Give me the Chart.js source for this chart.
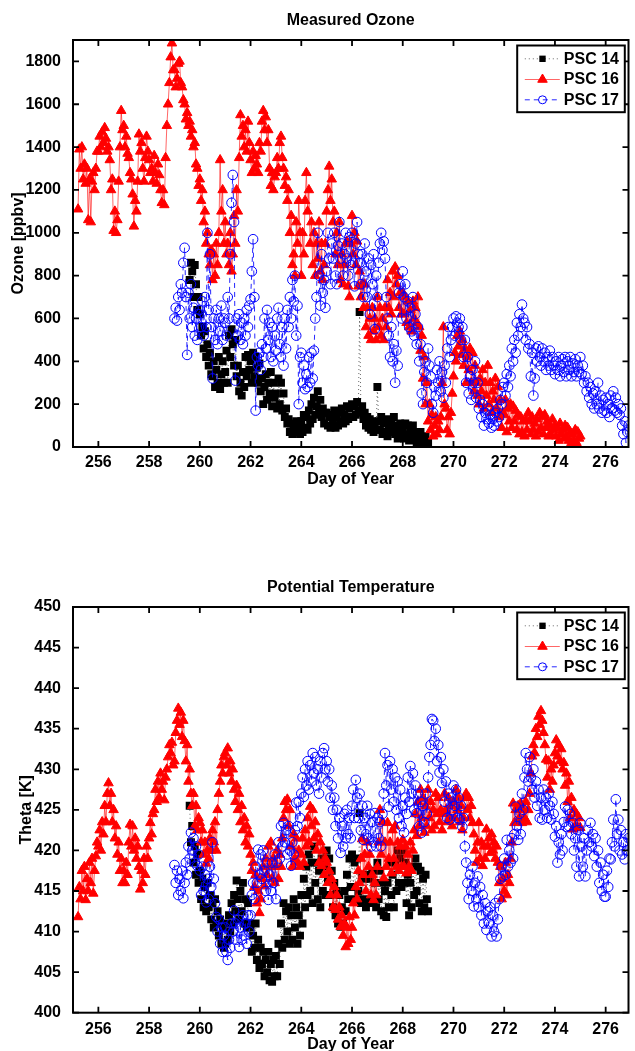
<!DOCTYPE html>
<html><head><meta charset="utf-8">
<script src="https://cdn.jsdelivr.net/npm/chart.js@4.4.1/dist/chart.umd.min.js"></script>
<style>
html,body{margin:0;padding:0;background:#fff;overflow:hidden;width:635px;height:1051px;}
canvas{position:absolute;left:0;}
#c1{top:0}
#c2{top:525px}
</style></head><body>
<canvas id="c1" width="635" height="525"></canvas>
<canvas id="c2" width="635" height="540"></canvas>
<script>
const seriesNames = ['PSC 14', 'PSC 16', 'PSC 17'];
const dayTicks = [256, 258, 260, 262, 264, 266, 268, 270, 272, 274, 276];
const ozoneTicks = [0, 200, 400, 600, 800, 1000, 1200, 1400, 1600, 1800];
const thetaTicks = [400, 405, 410, 415, 420, 425, 430, 435, 440, 445, 450];

// ---------- PSC 14 ----------
const psc14Day = [259.60,259.65,259.70,259.75,259.80,259.85,259.90,259.95,
260.00,260.05,260.10,260.15,260.20,260.25,260.30,260.35,260.40,260.45,260.50,260.55,260.60,260.65,260.70,260.75,260.80,260.85,260.90,260.95,
261.00,261.05,261.10,261.15,261.20,261.25,261.30,261.35,261.40,261.45,261.50,261.55,261.60,261.65,261.70,261.75,261.80,261.85,261.90,261.95,
262.00,262.05,262.10,262.15,262.20,262.25,262.30,262.35,262.40,262.45,262.50,262.55,262.60,262.65,262.70,262.75,262.80,262.85,262.90,262.95,
263.00,263.05,263.10,263.15,263.20,263.25,263.30,263.35,263.40,263.45,263.50,263.55,263.60,263.65,263.70,263.75,263.80,263.85,263.90,263.95,
264.00,264.05,264.10,264.15,264.20,264.25,264.30,264.35,264.40,264.45,264.50,264.55,264.60,264.65,264.70,264.75,264.80,264.85,264.90,264.95,
265.00,265.05,265.10,265.15,265.20,265.25,265.30,265.35,265.40,265.45,265.50,265.55,265.60,265.65,265.70,265.75,265.80,265.85,265.90,265.95,
266.00,266.05,266.10,266.15,266.20,266.25,266.30,266.35,266.40,266.45,266.50,266.55,266.60,266.65,266.70,266.75,266.80,266.85,266.90,266.95,
267.00,267.05,267.10,267.15,267.20,267.25,267.30,267.35,267.40,267.45,267.50,267.55,267.60,267.65,267.70,267.75,267.80,267.85,267.90,267.95,
268.00,268.05,268.10,268.15,268.20,268.25,268.30,268.35,268.40,268.45,268.50,268.55,268.60,268.65,268.70,268.75,268.80,268.85,268.90,268.95,
269.00];
const psc14Ozone = [780,860,820,700,850,760,640,700,
620,520,560,460,540,420,480,380,440,340,330,400,280,360,300,420,270,340,400,300,
350,450,300,520,420,550,480,380,500,330,380,260,300,240,350,280,420,330,430,360,
400,300,440,330,420,370,300,390,260,320,200,280,340,220,300,250,350,190,300,230,
250,180,320,200,300,170,250,140,180,110,130,70,110,60,90,70,120,80,100,60,
120,70,150,90,140,80,170,110,200,130,230,150,190,260,170,220,140,180,110,160,
160,100,140,90,150,110,170,90,140,100,160,120,180,110,150,120,190,130,180,140,
200,140,190,150,210,170,630,160,190,130,160,100,140,90,130,80,120,70,110,80,
280,120,80,140,60,110,70,130,50,100,70,120,90,140,60,100,40,80,110,60,
90,40,110,60,100,30,80,50,100,40,70,20,60,30,70,10,40,20,50,10,
20];
const psc14Theta = [425.5,421.0,423.0,418.5,420.5,417.0,419.5,416.0,
417.5,414.0,416.5,413.0,415.5,412.5,416.0,413.0,414.5,411.5,413.5,410.5,414.0,411.0,412.5,409.5,411.5,408.5,410.5,408.0,
408.5,411.0,409.0,412.0,410.0,413.5,411.0,414.5,412.5,416.3,414.0,411.5,415.0,412.5,416.0,411.0,414.0,410.5,413.5,411.0,
410.5,407.5,409.5,408.0,411.0,406.5,409.0,405.5,408.0,406.0,407.5,404.5,406.5,405.0,407.5,404.0,406.0,403.8,406.5,404.5,
407.0,404.5,408.5,406.0,411.0,408.0,413.5,409.0,412.5,410.0,413.0,408.5,412.0,409.0,414.0,410.5,413.0,408.5,412.0,409.5,
414.5,411.0,416.5,413.0,418.0,414.5,419.5,415.0,418.5,413.5,420.5,416.0,418.5,414.0,417.5,413.0,419.0,415.0,418.0,414.5,
420.0,416.5,419.0,414.5,417.5,413.0,416.0,412.0,415.0,411.0,414.5,410.6,413.0,411.0,415.0,412.5,417.0,414.0,419.0,415.5,
419.5,415.5,418.5,414.0,419.0,415.0,424.6,413.5,417.0,414.0,416.5,413.0,417.0,413.5,416.5,414.0,417.5,413.5,416.0,413.0,
418.5,414.0,417.5,412.5,416.0,412.0,415.0,411.8,416.0,413.0,418.5,414.5,417.0,413.0,418.5,415.0,420.0,416.0,419.0,415.5,
420.0,416.0,418.5,413.5,417.0,412.0,416.0,413.0,418.0,414.5,419.0,415.0,418.0,413.5,417.5,412.5,416.5,413.0,417.0,414.0,
412.5];

// ---------- PSC 16 ----------
const psc16Day = [255.20,255.25,255.30,255.35,255.40,255.45,255.50,255.55,255.60,255.65,255.70,255.75,255.80,255.85,255.90,255.95,
256.00,256.05,256.10,256.15,256.20,256.25,256.30,256.35,256.40,256.45,256.50,256.55,256.60,256.65,256.70,256.75,256.80,256.85,256.90,256.95,
257.00,257.05,257.10,257.15,257.20,257.25,257.30,257.35,257.40,257.45,257.50,257.55,257.60,257.65,257.70,257.75,257.80,257.85,257.90,257.95,
258.00,258.05,258.10,258.15,258.20,258.25,258.30,258.35,258.40,258.45,258.50,258.55,258.60,258.65,258.70,258.75,258.80,258.85,258.90,258.95,
259.00,259.05,259.10,259.15,259.20,259.25,259.30,259.35,259.40,259.45,259.50,259.55,259.60,259.65,259.70,259.75,259.80,259.85,259.90,259.95,
260.00,260.05,260.10,260.15,260.20,260.25,260.30,260.35,260.40,260.45,260.50,260.55,260.60,260.65,260.70,260.75,260.80,260.85,260.90,260.95,
261.00,261.05,261.10,261.15,261.20,261.25,261.30,261.35,261.40,261.45,261.50,261.55,261.60,261.65,261.70,261.75,261.80,261.85,261.90,261.95,
262.00,262.05,262.10,262.15,262.20,262.25,262.30,262.35,262.40,262.45,262.50,262.55,262.60,262.65,262.70,262.75,262.80,262.85,262.90,262.95,
263.00,263.05,263.10,263.15,263.20,263.25,263.30,263.35,263.40,263.45,263.50,263.55,263.60,263.65,263.70,263.75,263.80,263.85,263.90,263.95,
264.00,264.05,264.10,264.15,264.20,264.25,264.30,264.35,264.40,264.45,264.50,264.55,264.60,264.65,264.70,264.75,264.80,264.85,264.90,264.95,
265.00,265.05,265.10,265.15,265.20,265.25,265.30,265.35,265.40,265.45,265.50,265.55,265.60,265.65,265.70,265.75,265.80,265.85,265.90,265.95,
266.00,266.05,266.10,266.15,266.20,266.25,266.30,266.35,266.40,266.45,266.50,266.55,266.60,266.65,266.70,266.75,266.80,266.85,266.90,266.95,
267.00,267.05,267.10,267.15,267.20,267.25,267.30,267.35,267.40,267.45,267.50,267.55,267.60,267.65,267.70,267.75,267.80,267.85,267.90,267.95,
268.00,268.05,268.10,268.15,268.20,268.25,268.30,268.35,268.40,268.45,268.50,268.55,268.60,268.65,268.70,268.75,268.80,268.85,268.90,268.95,
269.00,269.05,269.10,269.15,269.20,269.25,269.30,269.35,269.40,269.45,269.50,269.55,269.60,269.65,269.70,269.75,269.80,269.85,269.90,269.95,
270.00,270.05,270.10,270.15,270.20,270.25,270.30,270.35,270.40,270.45,270.50,270.55,270.60,270.65,270.70,270.75,270.80,270.85,270.90,270.95,
271.00,271.05,271.10,271.15,271.20,271.25,271.30,271.35,271.40,271.45,271.50,271.55,271.60,271.65,271.70,271.75,271.80,271.85,271.90,271.95,
272.00,272.05,272.10,272.15,272.20,272.25,272.30,272.35,272.40,272.45,272.50,272.55,272.60,272.65,272.70,272.75,272.80,272.85,272.90,272.95,
273.00,273.05,273.10,273.15,273.20,273.25,273.30,273.35,273.40,273.45,273.50,273.55,273.60,273.65,273.70,273.75,273.80,273.85,273.90,273.95,
274.00,274.05,274.10,274.15,274.20,274.25,274.30,274.35,274.40,274.45,274.50,274.55,274.60,274.65,274.70,274.75,274.80,274.85,274.90,274.95,
275.00];
const psc16Ozone = [1110,1390,1300,1400,1250,1320,1230,1300,1060,1250,1050,1240,1280,1200,1300,1380,
1380,1450,1400,1470,1420,1490,1440,1380,1400,1340,1200,1250,1010,1100,1000,1060,1240,1400,1570,1480,
1500,1400,1450,1370,1350,1280,1250,1180,1030,1150,1100,1240,1460,1380,1420,1300,1240,1350,1450,1380,
1340,1280,1300,1240,1360,1280,1230,1320,1270,1200,1140,1200,1130,1350,1500,1600,1700,1820,1885,1760,
1760,1680,1720,1790,1800,1700,1680,1620,1600,1530,1560,1500,1520,1450,1480,1400,1420,1320,1300,1220,
1250,1150,1200,1050,1100,950,1000,900,850,920,780,900,800,950,850,1000,1340,1100,1200,950,
1050,900,950,850,1000,820,900,1080,950,1200,1100,1350,1550,1450,1500,1400,1480,1380,1520,1420,
1340,1280,1380,1300,1360,1320,1280,1420,1380,1520,1570,1480,1540,1420,1480,1300,1220,1280,1200,1260,
1280,1350,1300,1420,1450,1350,1300,1220,1260,1150,1200,1000,1080,850,900,800,1050,950,1150,1000,
800,1000,900,1150,1280,1100,1200,950,1050,850,1000,800,950,880,1050,820,950,780,850,950,
1100,1200,1310,1150,1250,1050,1100,900,1000,850,1050,780,900,760,850,950,960,750,700,950,
1080,900,1000,850,960,750,820,700,760,650,760,560,650,520,600,500,650,540,600,500,
700,560,650,520,600,500,650,560,780,650,720,620,820,700,840,760,800,650,720,620,
720,620,700,580,680,560,640,540,680,600,650,580,700,560,450,520,320,420,200,300,
120,200,80,150,50,100,140,60,120,80,140,300,560,200,180,80,140,60,160,250,
330,440,400,520,470,540,430,500,380,460,300,420,360,460,300,440,260,380,300,240,
200,320,260,360,180,300,240,380,200,300,160,260,220,320,180,280,140,220,90,160,
150,220,70,180,120,200,90,190,120,170,80,150,60,140,70,120,50,130,80,160,
120,60,140,80,110,50,130,70,160,90,140,60,150,90,120,50,100,60,130,80,
100,50,90,30,110,60,80,40,100,50,90,30,70,20,60,30,80,20,70,40,
50];
const psc16Theta = [411.8,415.5,414.0,417.5,415.0,418.0,413.9,416.5,415.0,418.5,416.0,419.0,414.7,417.5,419.3,421.0,
420.5,422.5,420.0,423.5,422.0,425.5,423.5,427.0,428.3,425.5,427.0,423.5,425.0,421.5,423.0,419.5,421.0,417.5,419.0,416.0,
417.5,416.0,418.5,417.0,421.0,423.2,420.5,423.0,420.0,421.5,419.0,420.5,418.0,415.2,417.5,416.0,419.0,417.0,420.5,419.0,
421.5,423.4,422.0,424.5,425.0,427.5,426.0,428.5,426.5,429.5,427.5,428.5,426.2,429.0,430.0,431.5,433.0,432.0,433.3,430.5,
431.0,434.5,436.0,437.5,435.5,437.0,434.0,436.0,433.5,431.0,433.0,428.5,430.0,427.0,425.5,427.0,423.0,425.5,422.5,424.0,
423.4,421.0,422.5,419.5,421.0,418.4,420.0,419.0,421.5,420.0,422.5,421.0,423.5,420.0,425.0,427.0,428.5,430.5,429.5,431.5,
432.0,430.5,432.6,429.5,431.0,428.5,430.0,427.5,426.0,428.0,425.0,427.0,423.5,425.5,422.5,424.0,421.0,423.0,420.5,422.0,
419.5,417.5,418.5,415.5,417.0,413.5,415.0,412.3,414.0,416.5,418.0,415.6,419.0,417.0,420.5,418.0,421.0,416.5,419.0,416.0,
418.0,420.0,416.5,419.5,418.0,421.5,424.0,426.0,425.0,426.3,423.0,425.0,420.5,418.0,422.0,419.0,421.5,418.5,420.0,418.0,
419.5,421.5,418.5,422.5,420.5,424.0,421.0,425.4,423.0,425.0,421.5,423.5,420.0,422.0,418.5,421.0,418.1,420.0,417.0,419.0,
418.5,416.0,417.5,414.5,416.5,413.0,415.5,412.7,414.5,411.5,413.0,410.6,412.0,409.5,411.0,408.1,410.5,408.5,411.8,409.0,
410.5,413.5,412.0,415.5,414.0,417.5,416.0,419.0,421.4,417.0,419.5,415.0,421.0,418.0,419.5,414.5,417.0,413.9,416.0,414.5,
418.0,421.0,425.0,419.5,423.5,416.6,421.0,418.0,423.4,419.0,421.0,417.2,422.5,419.0,423.0,418.0,421.0,417.5,420.5,418.0,
421.3,418.0,420.5,417.2,419.5,418.0,421.0,417.5,420.0,422.5,424.5,421.8,426.0,423.0,427.5,424.0,426.5,422.2,425.5,423.0,
427.5,424.0,426.0,422.5,425.0,423.0,427.0,424.5,426.5,423.5,425.0,422.5,424.5,427.0,425.0,423.5,426.5,424.0,425.5,423.0,
426.0,424.0,427.5,425.0,426.5,423.5,425.5,422.5,424.0,426.5,427.0,425.0,426.5,424.0,425.5,423.4,422.0,420.0,418.5,421.0,
423.4,419.0,421.0,418.1,420.5,419.0,422.6,420.5,421.5,419.7,422.0,420.0,421.0,419.0,420.5,418.5,416.0,418.0,414.0,416.5,
415.0,418.5,414.5,417.0,416.0,419.0,421.0,425.8,423.4,425.0,423.5,425.5,424.0,425.8,423.4,425.0,424.0,426.0,423.5,425.0,
427.0,429.5,431.6,433.0,432.0,435.0,434.0,436.5,435.5,437.2,436.0,434.5,433.0,431.2,429.0,431.0,427.5,430.0,428.5,430.5,
432.0,433.6,431.6,433.0,431.0,432.5,430.0,430.8,428.0,429.5,426.0,428.5,424.0,426.5,422.6,425.0,423.0,424.5,422.8,424.0,
422.8];

// ---------- PSC 17 ----------
const psc17Day = [259.00,259.05,259.10,259.15,259.20,259.25,259.30,259.35,259.40,259.45,259.50,259.55,259.60,259.65,259.70,259.75,259.80,259.85,259.90,259.95,
260.00,260.05,260.10,260.15,260.20,260.25,260.30,260.35,260.40,260.45,260.50,260.55,260.60,260.65,260.70,260.75,260.80,260.85,260.90,260.95,
261.00,261.05,261.10,261.15,261.20,261.25,261.30,261.35,261.40,261.45,261.50,261.55,261.60,261.65,261.70,261.75,261.80,261.85,261.90,261.95,
262.00,262.05,262.10,262.15,262.20,262.25,262.30,262.35,262.40,262.45,262.50,262.55,262.60,262.65,262.70,262.75,262.80,262.85,262.90,262.95,
263.00,263.05,263.10,263.15,263.20,263.25,263.30,263.35,263.40,263.45,263.50,263.55,263.60,263.65,263.70,263.75,263.80,263.85,263.90,263.95,
264.00,264.05,264.10,264.15,264.20,264.25,264.30,264.35,264.40,264.45,264.50,264.55,264.60,264.65,264.70,264.75,264.80,264.85,264.90,264.95,
265.00,265.05,265.10,265.15,265.20,265.25,265.30,265.35,265.40,265.45,265.50,265.55,265.60,265.65,265.70,265.75,265.80,265.85,265.90,265.95,
266.00,266.05,266.10,266.15,266.20,266.25,266.30,266.35,266.40,266.45,266.50,266.55,266.60,266.65,266.70,266.75,266.80,266.85,266.90,266.95,
267.00,267.05,267.10,267.15,267.20,267.25,267.30,267.35,267.40,267.45,267.50,267.55,267.60,267.65,267.70,267.75,267.80,267.85,267.90,267.95,
268.00,268.05,268.10,268.15,268.20,268.25,268.30,268.35,268.40,268.45,268.50,268.55,268.60,268.65,268.70,268.75,268.80,268.85,268.90,268.95,
269.00,269.05,269.10,269.15,269.20,269.25,269.30,269.35,269.40,269.45,269.50,269.55,269.60,269.65,269.70,269.75,269.80,269.85,269.90,269.95,
270.00,270.05,270.10,270.15,270.20,270.25,270.30,270.35,270.40,270.45,270.50,270.55,270.60,270.65,270.70,270.75,270.80,270.85,270.90,270.95,
271.00,271.05,271.10,271.15,271.20,271.25,271.30,271.35,271.40,271.45,271.50,271.55,271.60,271.65,271.70,271.75,271.80,271.85,271.90,271.95,
272.00,272.05,272.10,272.15,272.20,272.25,272.30,272.35,272.40,272.45,272.50,272.55,272.60,272.65,272.70,272.75,272.80,272.85,272.90,272.95,
273.00,273.05,273.10,273.15,273.20,273.25,273.30,273.35,273.40,273.45,273.50,273.55,273.60,273.65,273.70,273.75,273.80,273.85,273.90,273.95,
274.00,274.05,274.10,274.15,274.20,274.25,274.30,274.35,274.40,274.45,274.50,274.55,274.60,274.65,274.70,274.75,274.80,274.85,274.90,274.95,
275.00,275.05,275.10,275.15,275.20,275.25,275.30,275.35,275.40,275.45,275.50,275.55,275.60,275.65,275.70,275.75,275.80,275.85,275.90,275.95,
276.00,276.05,276.10,276.15,276.20,276.25,276.30,276.35,276.40,276.45,276.50,276.55,276.60,276.65,276.70,276.75,276.80,276.85,276.90];
const psc17Ozone = [600,650,590,700,640,760,720,860,930,700,430,720,600,760,560,650,520,600,500,620,
640,560,680,520,700,560,1000,640,900,560,320,600,500,640,480,600,540,660,500,600,
580,520,700,600,900,1140,1270,1050,310,600,520,620,500,580,480,600,520,640,560,660,
690,820,970,700,170,420,380,440,360,480,420,600,460,640,500,580,420,560,400,520,
450,600,650,480,420,560,380,600,460,640,560,700,600,780,680,800,520,660,200,420,
440,300,380,270,340,280,420,300,440,320,450,600,700,1000,800,660,900,720,780,650,
820,1000,880,760,950,880,1000,800,760,940,1050,880,950,800,900,1000,880,800,980,850,
1000,860,750,950,1050,900,860,760,900,700,950,820,700,880,620,850,760,900,550,800,
700,860,950,1000,920,960,880,700,600,520,420,560,400,480,300,450,380,720,760,600,
820,700,760,600,680,560,650,540,700,520,620,480,560,400,480,250,200,350,400,300,
460,380,330,200,160,280,240,360,300,400,260,350,230,380,300,460,560,420,500,560,
600,520,610,580,560,600,500,560,420,500,300,420,250,330,220,360,300,400,230,300,
180,220,140,200,100,160,130,180,110,150,90,130,100,160,120,180,140,220,200,280,
300,240,340,280,380,330,460,400,500,440,580,520,620,560,665,600,580,500,560,460,
480,330,440,240,320,460,400,470,420,380,460,400,440,360,420,380,450,360,420,380,
340,400,360,420,330,380,410,350,420,330,400,360,420,330,390,350,410,330,380,350,
420,340,380,300,330,260,300,230,280,200,250,180,260,200,300,180,240,160,220,170,
230,160,200,140,240,180,260,170,230,160,200,150,180,100,60,120,20,70,100];
const psc17Theta = [418.2,416.0,417.5,414.5,416.5,415.0,417.5,414.1,416.0,418.5,417.0,420.5,419.0,422.2,420.0,421.5,418.5,420.5,418.1,419.5,
417.5,414.5,418.0,415.0,417.0,413.6,416.5,414.0,418.0,415.5,421.0,416.5,413.5,411.8,410.0,411.5,408.5,410.5,407.5,409.5,
410.5,407.5,406.5,409.0,408.0,411.0,410.0,412.6,411.0,409.0,411.5,408.1,410.5,409.0,412.0,409.5,411.0,408.5,412.0,410.0,
412.0,414.5,416.0,414.0,418.0,416.0,420.1,417.0,419.5,416.5,420.0,417.5,415.0,418.5,413.9,417.0,415.0,418.5,416.0,419.5,
414.0,418.5,421.0,419.0,423.0,420.5,423.4,421.0,422.5,419.5,423.0,420.0,418.1,421.0,419.5,422.5,425.9,423.0,426.0,424.0,
427.0,429.0,426.6,430.0,428.0,431.0,427.5,430.5,428.5,432.0,429.5,431.5,428.0,430.0,427.0,431.0,429.0,432.0,432.6,430.0,
431.0,428.5,430.0,426.5,428.0,425.0,426.5,423.0,425.0,421.5,424.0,419.7,423.0,420.5,424.5,421.5,425.0,422.0,424.0,421.5,
425.5,427.5,424.0,428.7,426.5,424.0,427.0,422.5,425.5,421.3,424.0,422.0,425.5,421.5,424.5,420.5,423.5,421.0,424.6,420.5,
424.0,421.5,423.5,420.5,424.5,427.0,432.0,428.0,430.5,425.4,431.0,427.5,430.0,426.0,429.0,425.0,428.5,424.0,427.5,423.0,
425.5,422.2,426.5,424.5,429.0,426.0,430.4,427.0,429.5,425.0,428.0,424.6,427.0,423.0,426.0,422.2,425.5,423.5,427.0,424.5,
429.0,431.5,433.0,436.2,436.0,433.5,435.0,431.0,433.0,429.6,431.5,428.3,430.0,426.0,428.5,424.0,427.0,423.8,426.5,425.0,
428.0,425.5,427.5,424.0,426.5,423.8,425.5,422.9,424.0,420.5,418.5,416.0,414.0,417.0,415.0,418.0,413.1,416.0,414.0,416.8,
413.0,415.5,412.0,414.5,411.0,413.5,410.2,412.5,411.0,413.0,409.4,412.0,410.0,413.5,409.4,411.5,414.0,416.5,418.0,416.8,
419.0,417.0,421.3,418.0,420.0,418.5,421.5,419.0,422.0,425.4,423.0,421.3,424.5,422.0,427.0,425.0,429.0,432.0,430.0,428.5,
431.5,429.0,427.5,430.0,426.5,428.5,425.5,427.5,424.0,426.5,423.8,427.5,425.0,426.5,424.0,427.0,425.5,423.8,426.0,424.5,
421.7,423.0,418.5,421.0,419.5,422.0,420.0,423.5,425.4,422.9,425.0,423.0,424.5,422.0,423.4,420.0,421.5,418.0,422.5,416.8,
423.4,420.5,418.0,421.5,416.8,420.0,422.5,421.0,423.4,420.5,422.0,419.3,421.5,418.0,420.0,416.0,418.5,415.0,417.0,414.3,
414.3,417.5,415.5,419.0,418.9,421.0,423.8,420.5,426.3,422.0,423.8,420.0,422.5,419.5,421.0,418.9,422.0,420.0,421.5];

const FONT = "'Liberation Sans', Arial, Helvetica, sans-serif";
Chart.defaults.font.family = FONT;
Chart.defaults.font.size = 16;
Chart.defaults.font.weight = 'bold';
Chart.defaults.color = '#000';

const styles = [
  {name: seriesNames[0], color: '#000000', line: 'rgba(0,0,0,0.6)', lw: 1, dash: [1, 3], pointStyle: 'rect', radius: 5.6, fill: '#000000', pbw: 0, legR: 4.5},
  {name: seriesNames[1], color: '#ff0000', line: 'rgba(255,0,0,0.6)', lw: 1, dash: [], pointStyle: 'triangle', radius: 5.5, fill: '#ff0000', pbw: 1, legR: 5.5},
  {name: seriesNames[2], color: '#0000ff', line: 'rgba(0,0,255,0.85)', lw: 1, dash: [5, 4], pointStyle: 'circle', radius: 4.8, fill: 'rgba(0,0,0,0)', pbw: 1, legR: 4}
];

function makeDataset(i, days, vals) {
  const s = styles[i];
  return {
    label: s.name,
    data: days.map((d, k) => ({x: d, y: vals[k]})),
    showLine: true,
    borderColor: s.line,
    borderWidth: s.lw,
    borderDash: s.dash,
    pointStyle: s.pointStyle,
    pointRadius: s.radius,
    pointHoverRadius: s.radius,
    pointBackgroundColor: s.fill,
    pointBorderColor: s.color,
    pointBorderWidth: s.pbw,
    tension: 0,
    order: 3 - i
  };
}

function drawMarker(ctx, s, x, y, r) {
  ctx.save();
  ctx.setLineDash([]);
  ctx.fillStyle = s.fill;
  ctx.strokeStyle = s.color;
  ctx.lineWidth = s.pbw || 1;
  if (Chart.helpers && Chart.helpers.drawPoint) {
    Chart.helpers.drawPoint(ctx, {pointStyle: s.pointStyle, radius: r, rotation: 0, borderWidth: s.pbw}, x, y);
  } else {
    ctx.beginPath();
    if (s.pointStyle === 'rect') { ctx.rect(x - r * 0.707, y - r * 0.707, r * 1.414, r * 1.414); }
    else if (s.pointStyle === 'triangle') { ctx.moveTo(x, y - r); ctx.lineTo(x + r * 0.866, y + r * 0.5); ctx.lineTo(x - r * 0.866, y + r * 0.5); ctx.closePath(); }
    else { ctx.arc(x, y, r, 0, Math.PI * 2); }
    ctx.fill();
    if (s.pbw > 0) ctx.stroke();
  }
  ctx.restore();
}

const frameLegendPlugin = {
  id: 'frameLegend',
  afterDatasetsDraw(chart) {
    const {ctx, chartArea: a, scales: {x, y}} = chart;
    ctx.save();
    ctx.strokeStyle = '#000';
    ctx.lineWidth = 1.8;
    ctx.beginPath();
    x.ticks.forEach(t => {
      const px = x.getPixelForValue(t.value);
      ctx.moveTo(px, a.bottom); ctx.lineTo(px, a.bottom - 6);
      ctx.moveTo(px, a.top); ctx.lineTo(px, a.top + 6);
    });
    y.ticks.forEach(t => {
      const py = y.getPixelForValue(t.value);
      ctx.moveTo(a.left, py); ctx.lineTo(a.left + 6, py);
      ctx.moveTo(a.right, py); ctx.lineTo(a.right - 6, py);
    });
    ctx.stroke();
    ctx.lineWidth = 2;
    ctx.strokeRect(a.left, a.top, a.right - a.left, a.bottom - a.top);
    ctx.restore();
  },
  afterDraw(chart) {
    const {ctx, chartArea: a} = chart;
    const bw = 107.6, bh = 66.7;
    const bx = a.right - 111.3, by = a.top + 5.5;
    ctx.save();
    ctx.fillStyle = '#fff';
    ctx.fillRect(bx, by, bw, bh);
    ctx.strokeStyle = '#000';
    ctx.lineWidth = 2;
    ctx.strokeRect(bx, by, bw, bh);
    const rows = [13.3, 34, 54.3];
    styles.forEach((s, i) => {
      const yy = by + rows[i];
      ctx.save();
      ctx.strokeStyle = s.line;
      ctx.lineWidth = s.lw;
      ctx.setLineDash(s.dash);
      ctx.beginPath();
      ctx.moveTo(bx + 7.6, yy);
      ctx.lineTo(bx + 42.6, yy);
      ctx.stroke();
      ctx.restore();
      drawMarker(ctx, s, bx + 25.3, yy, s.legR);
      ctx.fillStyle = '#000';
      ctx.font = 'bold 16px ' + FONT;
      ctx.textAlign = 'left';
      ctx.textBaseline = 'middle';
      ctx.fillText(s.name, bx + 46.6, yy + 0.5);
    });
    ctx.restore();
  }
};

function makeChart(canvas, cfg) {
  return new Chart(canvas, {
    type: 'line',
    data: {datasets: cfg.datasets},
    options: {
      responsive: false,
      animation: false,
      devicePixelRatio: 1,
      events: [],
      layout: {padding: cfg.padding},
      plugins: {
        legend: {display: false},
        tooltip: {enabled: false},
        title: {display: true, text: cfg.title, fullSize: false, color: '#000',
                font: {size: 16, weight: 'bold'}, padding: cfg.titlePad}
      },
      scales: {
        x: {
          type: 'linear', min: 255, max: 276.9,
          grid: {display: false}, border: {display: false},
          afterBuildTicks: s => { s.ticks = dayTicks.map(v => ({value: v})); },
          afterFit: s => { s.height = cfg.xHeight; },
          ticks: {padding: cfg.xPad, maxRotation: 0, autoSkip: false, color: '#000',
                  font: {size: 16, weight: 'bold'}, callback: v => String(v)},
          title: {display: true, text: 'Day of Year', padding: 0, color: '#000',
                  font: {size: 16, weight: 'bold'}}
        },
        y: {
          type: 'linear', min: cfg.ymin, max: cfg.ymax,
          grid: {display: false}, border: {display: false},
          afterBuildTicks: s => { s.ticks = cfg.yTicks.map(v => ({value: v})); },
          afterFit: s => { s.width = cfg.yWidth; },
          ticks: {padding: 4, autoSkip: false, color: '#000',
                  font: {size: 16, weight: 'bold'}, callback: v => String(v)},
          title: {display: true, text: cfg.ytitle, padding: 0, color: '#000',
                  font: {size: 16, weight: 'bold'}}
        }
      }
    },
    plugins: [frameLegendPlugin]
  });
}

makeChart(document.getElementById('c1'), {
  title: 'Measured Ozone',
  titlePad: {top: 11, bottom: 9.8},
  padding: {left: 8.7, right: 3, top: 0, bottom: 35.4},
  xHeight: 42.6, xPad: -2.4, yWidth: 64.3,
  ymin: 0, ymax: 1900, yTicks: ozoneTicks, ytitle: 'Ozone [ppbv]',
  datasets: [
    makeDataset(0, psc14Day, psc14Ozone),
    makeDataset(1, psc16Day, psc16Ozone),
    makeDataset(2, psc17Day, psc17Ozone)
  ]
});

makeChart(document.getElementById('c2'), {
  title: 'Potential Temperature',
  titlePad: {top: 53.4, bottom: 9.4},
  padding: {left: 16.9, right: 3, top: 0, bottom: 11.1},
  xHeight: 41.2, xPad: -0.8, yWidth: 56.1,
  ymin: 400, ymax: 450, yTicks: thetaTicks, ytitle: 'Theta [K]',
  datasets: [
    makeDataset(0, psc14Day, psc14Theta),
    makeDataset(1, psc16Day, psc16Theta),
    makeDataset(2, psc17Day, psc17Theta)
  ]
});
</script>
</body></html>
